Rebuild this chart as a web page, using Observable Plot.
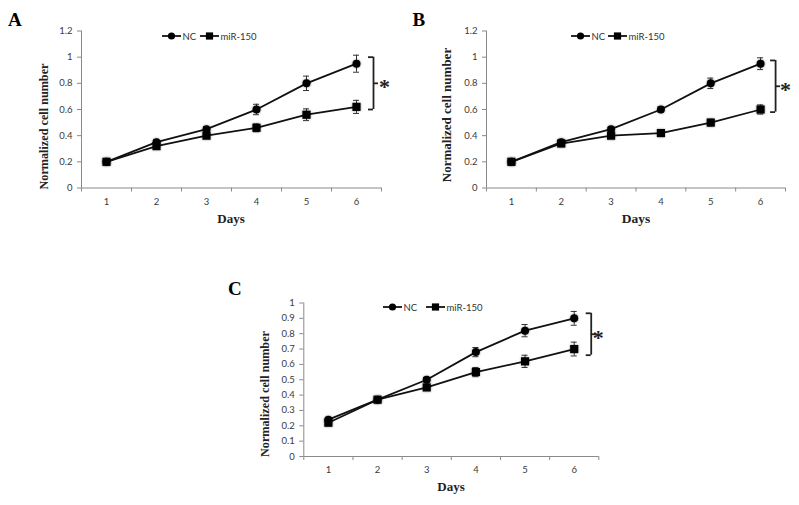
<!DOCTYPE html>
<html><head><meta charset="utf-8">
<script src="https://cdn.jsdelivr.net/npm/d3@7"></script>
<script src="https://cdn.jsdelivr.net/npm/@observablehq/plot@0.6"></script>
<style>
body{margin:0;background:#fff;}
#wrap{position:relative;width:799px;height:505px;overflow:hidden;background:#fff;}
#wrap > svg{position:absolute;}
g[aria-label="dot"]{filter:drop-shadow(0.8px 0.8px 0.9px rgba(0,0,0,0.45));}
</style></head><body><div id="wrap"></div>
<script>
// ---- data ----
const days = [1, 2, 3, 4, 5, 6];
const seriesNames = ["NC", "miR-150"];
const ncA = [0.20, 0.35, 0.45, 0.60, 0.80, 0.95];
const ncErrA = [0.01, 0.02, 0.02, 0.04, 0.055, 0.065];
const mirA = [0.20, 0.32, 0.40, 0.46, 0.56, 0.62];
const mirErrA = [0.01, 0.02, 0.02, 0.03, 0.045, 0.05];
const ncB = [0.20, 0.35, 0.45, 0.60, 0.80, 0.95];
const ncErrB = [0.01, 0.015, 0.015, 0.02, 0.04, 0.045];
const mirB = [0.20, 0.34, 0.40, 0.42, 0.50, 0.60];
const mirErrB = [0.01, 0.015, 0.015, 0.02, 0.025, 0.035];
const ncC = [0.24, 0.37, 0.50, 0.68, 0.82, 0.90];
const ncErrC = [0.01, 0.015, 0.015, 0.03, 0.04, 0.045];
const mirC = [0.22, 0.37, 0.45, 0.55, 0.62, 0.70];
const mirErrC = [0.01, 0.015, 0.02, 0.03, 0.04, 0.045];
const yTicksAB = [0, 0.2, 0.4, 0.6, 0.8, 1, 1.2];
const yTicksC = [0, 0.1, 0.2, 0.3, 0.4, 0.5, 0.6, 0.7, 0.8, 0.9, 1];
const bracketA = [0.60, 1.00];
const bracketB = [0.58, 0.975];
const bracketC = [0.66, 0.933];
const panelLetters = ["A", "B", "C"];
const xTitle = "Days";
const yTitle = "Normalized cell number";

// ---- drawing ----
const wrap = document.getElementById("wrap");
const axisGray = "#8a8a8a";
const tickText = "#3a3a3a";

function panel(cfg) {
  const rows = (vals, errs, s) => days.map((d, i) => ({day: d, v: vals[i], e: errs[i], s}));
  const nc = rows(cfg.nc, cfg.ncErr, seriesNames[0]);
  const mir = rows(cfg.mir, cfg.mirErr, seriesNames[1]);
  const all = nc.concat(mir);
  const xUnit = (cfg.width - cfg.ml - cfg.mr) / 6;
  const cap = 3 / xUnit;
  const br = [{lo: cfg.bracket[0], hi: cfg.bracket[1], mid: (cfg.bracket[0] + cfg.bracket[1]) / 2}];
  const bx = days[days.length - 1] + cfg.bOff / xUnit;
  const bt = 5 / xUnit;
  const bounds = d3.range(7).map(i => i + 0.5);
  const svg = Plot.plot({
    width: cfg.width, height: cfg.height,
    marginLeft: cfg.ml, marginRight: cfg.mr, marginTop: cfg.mt, marginBottom: cfg.mb,
    style: {fontFamily: "Lato, sans-serif", fontSize: "9.5px", color: tickText, background: "transparent", overflow: "visible"},
    x: {domain: [0.5, 6.5]},
    y: {domain: [0, cfg.yMax]},
    marks: [
      Plot.axisY({ticks: cfg.yTicks, tickSize: 4, tickPadding: 5, tickFormat: d => String(+d.toFixed(1)), stroke: axisGray, fill: tickText, label: null}),
      Plot.axisX({ticks: bounds, tickSize: 4, tickFormat: () => "", stroke: axisGray, label: null}),
      Plot.axisX({ticks: days, tickSize: 0, tickPadding: 10, tickFormat: d => String(d), fill: tickText, label: null}),
      Plot.ruleX([0.5], {stroke: axisGray}),
      Plot.ruleY([0], {stroke: axisGray}),
      Plot.ruleX(all, {x: "day", y1: d => d.v - d.e, y2: d => d.v + d.e, stroke: "#333", strokeWidth: 1}),
      Plot.ruleY(all, {y: d => d.v + d.e, x1: d => d.day - cap, x2: d => d.day + cap, stroke: "#333", strokeWidth: 1}),
      Plot.ruleY(all, {y: d => d.v - d.e, x1: d => d.day - cap, x2: d => d.day + cap, stroke: "#333", strokeWidth: 1}),
      Plot.line(nc, {x: "day", y: "v", stroke: "#111", strokeWidth: 1.8}),
      Plot.line(mir, {x: "day", y: "v", stroke: "#111", strokeWidth: 1.8}),
      Plot.dot(nc, {x: "day", y: "v", r: 4, fill: "#000", stroke: null}),
      Plot.dot(mir, {x: "day", y: "v", r: 4.6, symbol: "square", fill: "#000", stroke: null}),
      Plot.ruleX(br, {x: bx, y1: "lo", y2: "hi", stroke: "#222", strokeWidth: 1.8}),
      Plot.ruleY(br, {y: "hi", x1: bx - bt, x2: bx, stroke: "#222", strokeWidth: 1.8}),
      Plot.ruleY(br, {y: "lo", x1: bx - bt, x2: bx, stroke: "#222", strokeWidth: 1.8}),
      Plot.ruleY(br, {y: "mid", x1: bx, x2: bx + bt, stroke: "#222", strokeWidth: 1.8}),
      Plot.text(br, {x: bx, y: "mid", text: () => "*", dx: cfg.starDx, dy: 3.5, fontSize: 22, fontWeight: "bold", fontFamily: "Liberation Serif", fill: "#222", textAnchor: "middle"})
    ]
  });
  svg.style.left = cfg.left + "px";
  svg.style.top = cfg.top + "px";
  wrap.appendChild(svg);
}

panel({nc: ncA, ncErr: ncErrA, mir: mirA, mirErr: mirErrA, yMax: 1.2, yTicks: yTicksAB, bracket: bracketA,
  left: 0, top: 0, width: 400, height: 235, ml: 81, mr: 19, mt: 30.5, mb: 47.5, bOff: 17, starDx: 11});
panel({nc: ncB, ncErr: ncErrB, mir: mirB, mirErr: mirErrB, yMax: 1.2, yTicks: yTicksAB, bracket: bracketB,
  left: 400, top: 0, width: 399, height: 235, ml: 86, mr: 14, mt: 30.5, mb: 47.5, bOff: 15, starDx: 10});
panel({nc: ncC, ncErr: ncErrC, mir: mirC, mirErr: mirErrC, yMax: 1, yTicks: yTicksC, bracket: bracketC,
  left: 220, top: 270, width: 390, height: 235, ml: 83.3, mr: 11.7, mt: 32.5, mb: 49, bOff: 17, starDx: 7});

// ---- overlay text & legends ----
const ov = d3.select(wrap).append("svg").attr("width", 799).attr("height", 505)
  .style("left", "0px").style("top", "0px").style("pointer-events", "none");

const letters = [{x: 8, y: 25.5}, {x: 412.5, y: 25.5}, {x: 228, y: 295}];
letters.forEach((p, i) => ov.append("text").attr("x", p.x).attr("y", p.y).text(panelLetters[i])
  .attr("font-family", "Liberation Serif").attr("font-weight", "bold").attr("font-size", 19).attr("fill", "#000"));

const xTitles = [{x: 231, y: 222.5, fs: 13}, {x: 636, y: 222.5, fs: 13.5}, {x: 451, y: 491, fs: 13}];
xTitles.forEach(p => ov.append("text").attr("x", p.x).attr("y", p.y).text(xTitle).attr("text-anchor", "middle")
  .attr("font-family", "Liberation Serif").attr("font-weight", "bold").attr("font-size", p.fs).attr("fill", "#222"));

const yTitles = [{x: 44, y: 126.5, fs: 12.2}, {x: 446, y: 115, fs: 13}, {x: 265, y: 394, fs: 12.2}];
yTitles.forEach(p => ov.append("text").attr("transform", `translate(${p.x},${p.y}) rotate(-90)`).text(yTitle)
  .attr("text-anchor", "middle").attr("dominant-baseline", "central")
  .attr("font-family", "Liberation Serif").attr("font-weight", "bold").attr("font-size", p.fs).attr("fill", "#222"));

const legends = [{x1: 162, x2: 200, y: 36}, {x1: 571, x2: 608, y: 36}, {x1: 383, x2: 426, y: 307}];
legends.forEach(p => {
  const g = ov.append("g");
  [[p.x1, "circle", seriesNames[0]], [p.x2, "square", seriesNames[1]]].forEach(([x, sym, name]) => {
    g.append("line").attr("x1", x).attr("x2", x + 19).attr("y1", p.y).attr("y2", p.y).attr("stroke", "#111").attr("stroke-width", 1.8);
    if (sym === "circle") g.append("circle").attr("cx", x + 9.5).attr("cy", p.y).attr("r", 3.6).attr("fill", "#000");
    else g.append("rect").attr("x", x + 9.5 - 3.6).attr("y", p.y - 3.6).attr("width", 7.2).attr("height", 7.2).attr("fill", "#000");
    g.append("text").attr("x", x + 20.5).attr("y", p.y).attr("dominant-baseline", "central").text(name)
      .attr("font-family", "Lato, sans-serif").attr("font-size", 9.5).attr("fill", "#333");
  });
});
</script></body></html>
